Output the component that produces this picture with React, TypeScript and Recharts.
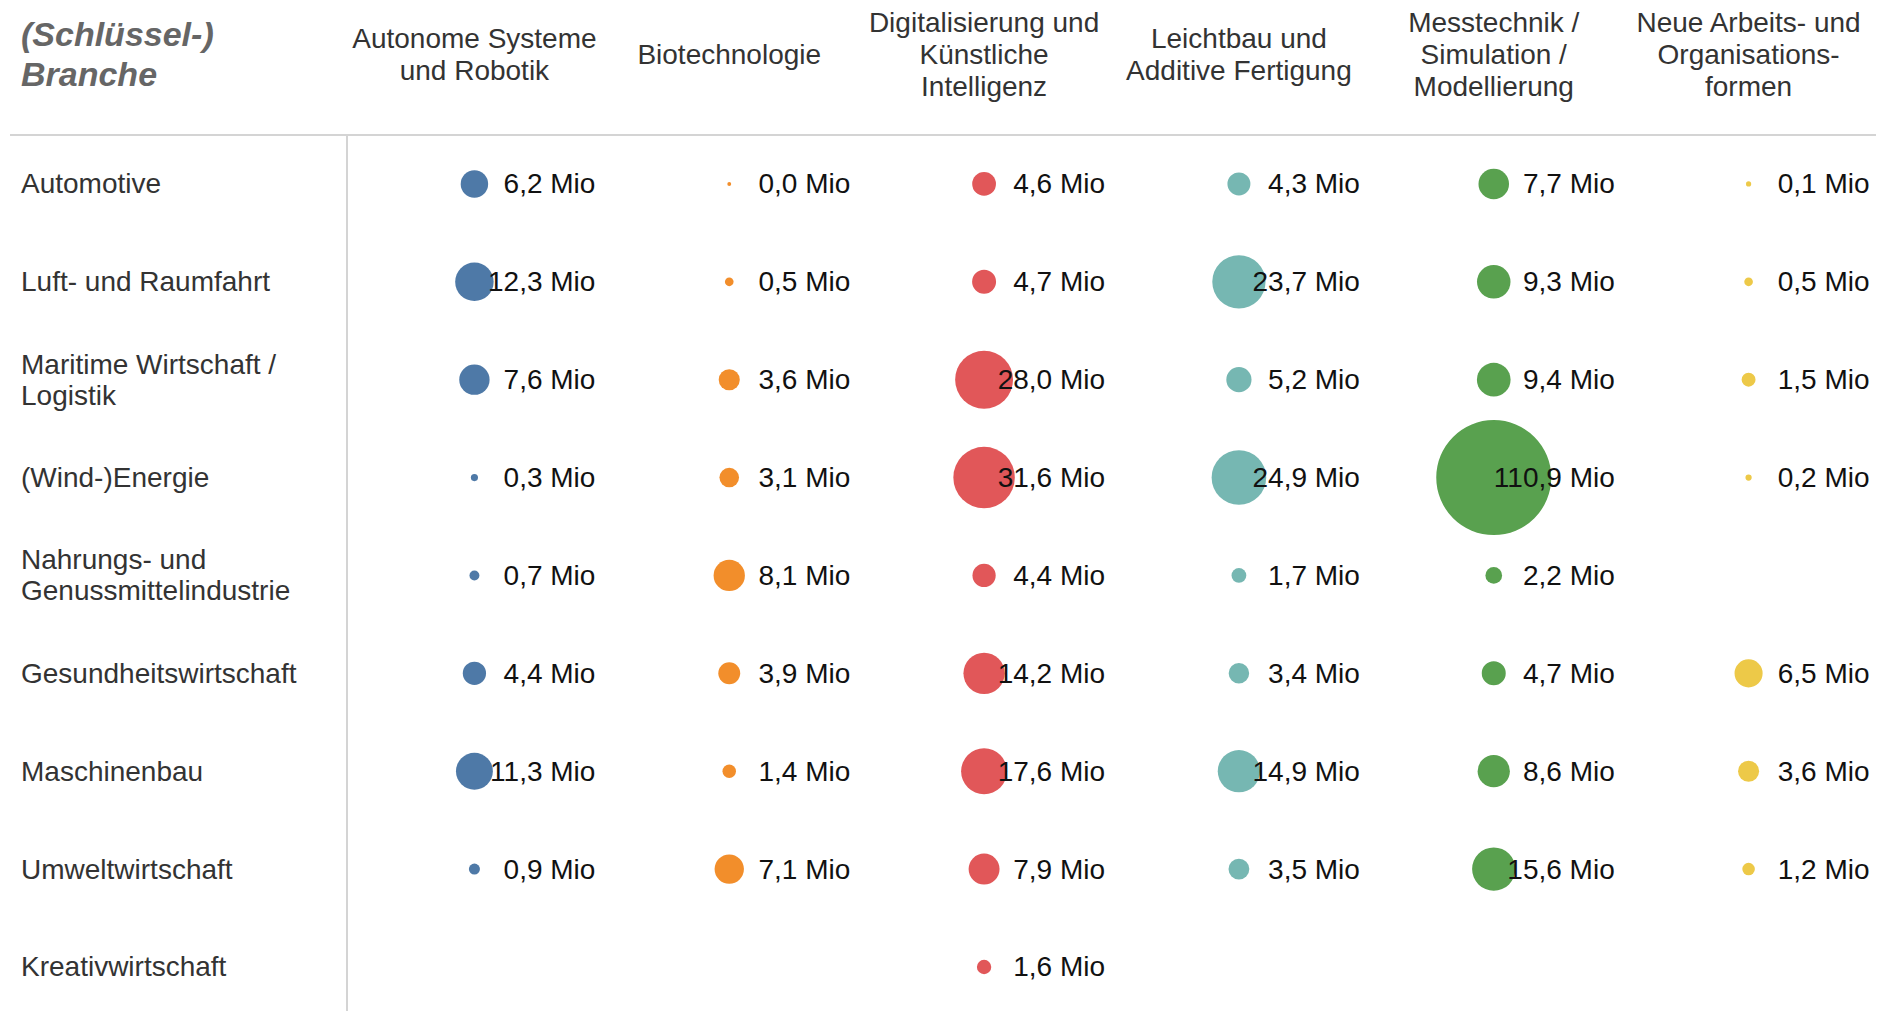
import React from "react";
import { Label, LabelList, Scatter, ScatterChart, XAxis, YAxis, ZAxis } from "recharts";

const branches = [
  ["Automotive"],
  ["Luft- und Raumfahrt"],
  ["Maritime Wirtschaft /", "Logistik"],
  ["(Wind-)Energie"],
  ["Nahrungs- und", "Genussmittelindustrie"],
  ["Gesundheitswirtschaft"],
  ["Maschinenbau"],
  ["Umweltwirtschaft"],
  ["Kreativwirtschaft"],
];

const fields = [
  ["Autonome Systeme", "und Robotik"],
  ["Biotechnologie"],
  ["Digitalisierung und", "Künstliche", "Intelligenz"],
  ["Leichtbau und", "Additive Fertigung"],
  ["Messtechnik /", "Simulation /", "Modellierung"],
  ["Neue Arbeits- und", "Organisations-", "formen"],
];

// Mio EUR per branch (row order as above), null = no entry
const robotik = [6.2, 12.3, 7.6, 0.3, 0.7, 4.4, 11.3, 0.9, null];
const biotech = [0.0, 0.5, 3.6, 3.1, 8.1, 3.9, 1.4, 7.1, null];
const digital = [4.6, 4.7, 28.0, 31.6, 4.4, 14.2, 17.6, 7.9, 1.6];
const leichtbau = [4.3, 23.7, 5.2, 24.9, 1.7, 3.4, 14.9, 3.5, null];
const messtechnik = [7.7, 9.3, 9.4, 110.9, 2.2, 4.7, 8.6, 15.6, null];
const neueArbeit = [0.1, 0.5, 1.5, 0.2, null, 6.5, 3.6, 1.2, null];

const series = [robotik, biotech, digital, leichtbau, messtechnik, neueArbeit];
const colors = ["#4e79a7", "#f28e2b", "#e15759", "#76b7b2", "#59a14f", "#edc948"];

const FONT = "'Liberation Sans', Arial, Helvetica, sans-serif";
const LINE = "#d4d4d4";

const toPoints = (vals: (number | null)[], col: number) =>
  vals
    .map((v, row) => (v == null ? null : { x: col, y: row, z: v }))
    .filter(Boolean) as { x: number; y: number; z: number }[];

const fmt = (v: number) => `${v.toFixed(1).replace(".", ",")} Mio`;

function HeaderTick(props: any) {
  const { x, payload } = props;
  const lines = fields[payload.value] ?? [];
  const lh = 32;
  const top = 54 - ((lines.length - 1) * lh) / 2;
  return (
    <text x={x} textAnchor="middle" fill="#333" fontSize={28} fontFamily={FONT}>
      {lines.map((l, i) => (
        <tspan key={i} x={x} y={top + i * lh} dominantBaseline="central">
          {l}
        </tspan>
      ))}
    </text>
  );
}

function RowTick(props: any) {
  const { y, payload } = props;
  const lines = branches[payload.value] ?? [];
  const lh = 31;
  const top = y - ((lines.length - 1) * lh) / 2;
  return (
    <text x={21} textAnchor="start" fill="#333" fontSize={28} fontFamily={FONT}>
      {lines.map((l, i) => (
        <tspan key={i} x={21} y={top + i * lh} dominantBaseline="central">
          {l}
        </tspan>
      ))}
    </text>
  );
}

function BranchHeader(props: any) {
  const vb = props.viewBox || {};
  const lineY = vb.y ?? 135;
  const right = (vb.x ?? 0) + (vb.width ?? 347);
  return (
    <g>
      <text
        x={21}
        fill="#666"
        fontSize={34}
        fontWeight="bold"
        fontStyle="italic"
        fontFamily={FONT}
      >
        <tspan x={21} y={34} dominantBaseline="central">
          (Schlüssel-)
        </tspan>
        <tspan x={21} y={74} dominantBaseline="central">
          Branche
        </tspan>
      </text>
      <line x1={10} x2={right} y1={lineY} y2={lineY} stroke={LINE} strokeWidth={2} />
    </g>
  );
}

function ValueLabel(props: any) {
  const vb = props.viewBox || props;
  const cx = vb.x + (vb.width || 0) / 2;
  const cy = vb.y + (vb.height || 0) / 2;
  return (
    <text
      x={cx + 121}
      y={cy}
      textAnchor="end"
      dominantBaseline="central"
      fill="#111"
      fontSize={28}
      fontFamily={FONT}
    >
      {fmt(Number(props.value))}
    </text>
  );
}

export default function App() {
  return (
    <div style={{ position: "absolute", left: 0, top: 0, background: "#fff", fontFamily: FONT }}>
      <ScatterChart width={1896} height={1011} margin={{ top: 0, right: 20, bottom: 0, left: 0 }}>
        <XAxis
          type="number"
          dataKey="x"
          orientation="top"
          domain={[-0.5, 5.5]}
          ticks={[0, 1, 2, 3, 4, 5]}
          height={135}
          tick={<HeaderTick />}
          tickLine={false}
          axisLine={{ stroke: LINE, strokeWidth: 2 }}
          allowDataOverflow
        />
        <YAxis
          type="number"
          dataKey="y"
          reversed
          domain={[-0.5, 8.45]}
          ticks={[0, 1, 2, 3, 4, 5, 6, 7, 8]}
          width={347}
          tick={<RowTick />}
          tickLine={false}
          axisLine={{ stroke: LINE, strokeWidth: 2 }}
          allowDataOverflow
        >
          <Label content={<BranchHeader />} />
        </YAxis>
        <ZAxis type="number" dataKey="z" domain={[0, 110.9]} range={[12, Math.PI * 57.5 * 57.5]} />
        {series.map((vals, col) => (
          <Scatter
            key={col}
            data={toPoints(vals, col)}
            fill={colors[col]}
            isAnimationActive={false}
          >
            <LabelList dataKey="z" content={<ValueLabel />} />
          </Scatter>
        ))}
      </ScatterChart>
    </div>
  );
}
